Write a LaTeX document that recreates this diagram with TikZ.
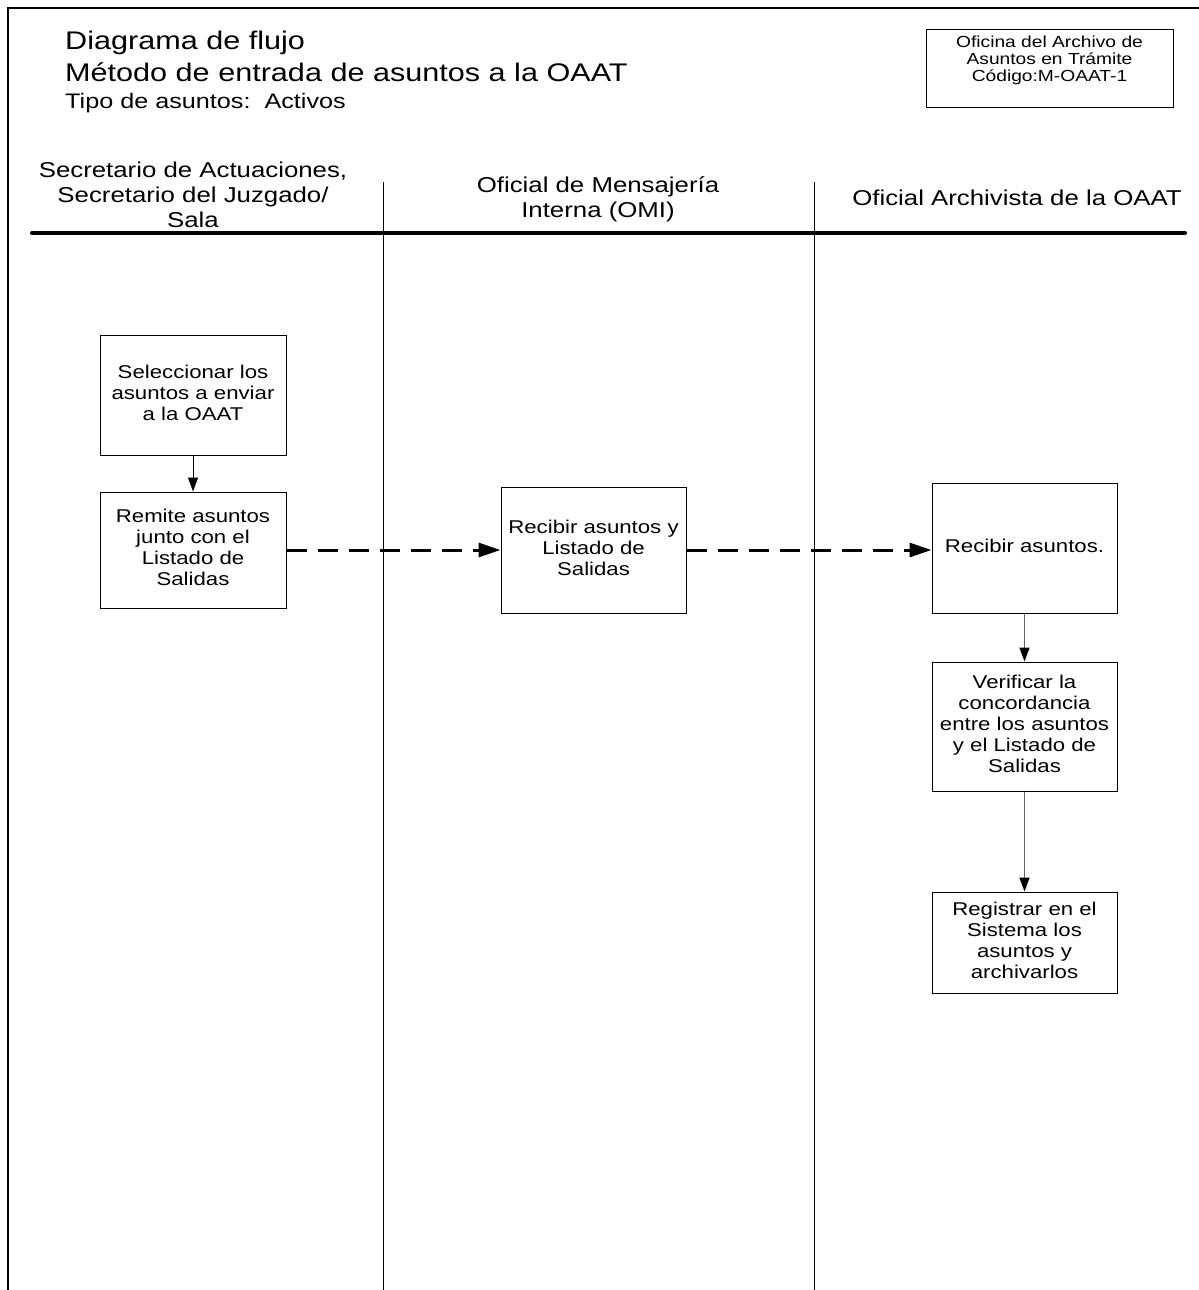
\documentclass[tikz,border=0pt]{standalone}
\usepackage{fontspec}
\setmainfont{Liberation Sans}
\usepackage{graphicx}
\usetikzlibrary{arrows.meta}
\newcommand{\hs}[1]{\scalebox{1.2}[1]{\begin{tabular}{@{}c@{}}#1\end{tabular}}}
\begin{document}
\begin{tikzpicture}[x=1pt,y=-1pt,
  proc/.style={draw, line width=1pt, inner sep=0pt, minimum width=185pt, font=\fontsize{18.5}{21}\selectfont},
  hdr/.style={inner sep=0pt, font=\fontsize{21.5}{25}\selectfont},
  ttl/.style={inner sep=0pt, anchor=west, font=\fontsize{25.5}{28}\selectfont},
  sub/.style={inner sep=0pt, anchor=west, font=\fontsize{21}{22}\selectfont},
  frame/.style={line width=1.2pt},
  lane/.style={line width=1pt},
  solidarr/.style={line width=1pt, -{Triangle[length=14pt,width=10pt]}},
  grayarr/.style={line width=1.5pt, draw=black!60, -{Triangle[length=14pt,width=10pt,color=black]}},
  dasharr/.style={line width=3pt, dash pattern=on 20pt off 11pt, -{Triangle[length=22pt,width=14pt]}}
]
\useasboundingbox (0,0) rectangle (1199,1290);
% frame
\draw[frame] (8,1290) -- (8,8) -- (1199,8);
% titles
\node[ttl] (t1) at (65,44) {\hs{Diagrama de flujo}};
\node[ttl] (t2) at (65,76) {\hs{Método de entrada de asuntos a la OAAT}};
\node[sub] (t3) at (65,104) {\hs{Tipo de asuntos:\ \ Activos}};
% corner box
\node[draw, line width=1pt, inner sep=0pt, minimum width=247pt, minimum height=77pt] (code) at (1049.5,68.5) {};
\node[inner sep=0pt, font=\fontsize{16}{17}\selectfont] (codetext) at (1049.5,61)
      {\hs{Oficina del Archivo de\\Asuntos en Trámite\\Código:M-OAAT-1}};
% headers
\node[hdr] (h1) at (193,197) {\hs{Secretario de Actuaciones,\\Secretario del Juzgado/\\Sala}};
\node[hdr] (h2) at (598,200) {\hs{Oficial de Mensajería\\Interna (OMI)}};
\node[hdr] (h3) at (1017,200) {\hs{Oficial Archivista de la OAAT}};
\draw[line width=4pt, line cap=round] (32,233) -- (1185,233);
% lanes
\draw[lane] (383,182) -- (383,1290);
\draw[lane] (814,182) -- (814,1290);
% boxes
\node[proc, minimum width=186pt, minimum height=120pt] (a) at (193,395)
  {\hs{Seleccionar los\\asuntos a enviar\\a la OAAT}};
\node[proc, minimum width=186pt, minimum height=116pt] (b) at (193,550)
  {\hs{Remite asuntos\\junto con el\\Listado de\\Salidas}};
\node[proc, minimum height=126pt] (c) at (593.5,550)
  {\hs{Recibir asuntos y\\Listado de\\Salidas}};
\node[proc, minimum height=130pt] (d) at (1024.5,548)
  {\hs{Recibir asuntos.}};
\node[proc, minimum height=129pt] (e) at (1024.5,726.5)
  {\hs{Verificar la\\concordancia\\entre los asuntos\\y el Listado de\\Salidas}};
\node[proc, minimum height=101pt] (f) at (1024.5,942.5)
  {\hs{Registrar en el\\Sistema los\\asuntos y\\archivarlos}};
% connectors
\draw[solidarr] (a) -- (b);
\draw[dasharr] (b.east) -- (c.west |- b.east);
\draw[dasharr] (c.east) -- (d.west |- c.east);
\draw[grayarr] (d) -- (e);
\draw[grayarr] (e) -- (f);
\end{tikzpicture}
\end{document}
